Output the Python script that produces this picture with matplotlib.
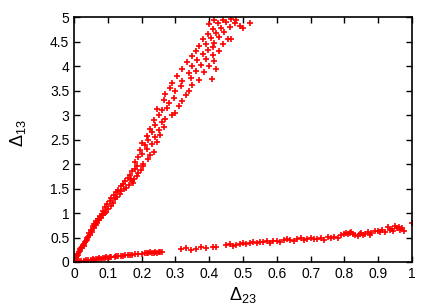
import matplotlib
matplotlib.use("Agg")
import matplotlib.pyplot as plt

plt.rcParams['font.family'] = ['Liberation Sans', 'DejaVu Sans']
plt.rcParams['mathtext.fontset'] = 'custom'
plt.rcParams['mathtext.rm'] = 'Liberation Sans'
plt.rcParams['mathtext.it'] = 'Liberation Sans'

# steep branch (delta_23, delta_13)
steep_x = [0.002, 0.004, 0.006, 0.008, 0.01, 0.013, 0.016, 0.018, 0.021, 0.024, 0.026, 0.029, 0.032, 0.034,
           0.037, 0.039, 0.012, 0.028,
           0.04, 0.048, 0.045, 0.054, 0.05, 0.058, 0.055, 0.064, 0.06, 0.068, 0.065, 0.074, 0.07, 0.08, 0.076,
           0.086, 0.082, 0.09, 0.095,
           0.085, 0.1, 0.092, 0.108, 0.098, 0.115, 0.105, 0.12, 0.11, 0.128, 0.118, 0.135, 0.125, 0.14, 0.13,
           0.148, 0.138, 0.155,
           0.145, 0.162, 0.15, 0.17, 0.158, 0.178, 0.165, 0.185, 0.172, 0.19, 0.18, 0.198, 0.186, 0.205, 0.175,
           0.168,
           0.18, 0.205, 0.22, 0.19, 0.2, 0.225, 0.215, 0.195, 0.235, 0.21, 0.23, 0.2, 0.245, 0.22, 0.24, 0.215,
           0.255, 0.23, 0.25, 0.225, 0.265, 0.24, 0.26,
           0.235, 0.27, 0.25, 0.29, 0.26, 0.3, 0.275, 0.245, 0.31, 0.28, 0.265, 0.32, 0.295, 0.27, 0.33, 0.3,
           0.285, 0.34, 0.315, 0.29, 0.35,
           0.32, 0.345, 0.37, 0.305, 0.34, 0.36, 0.385, 0.32, 0.35, 0.375, 0.4, 0.335, 0.365, 0.39, 0.35, 0.38,
           0.41, 0.36, 0.395, 0.42, 0.407, 0.41,
           0.37, 0.39, 0.415, 0.44, 0.38, 0.405, 0.43, 0.455, 0.465, 0.395, 0.42, 0.445, 0.41, 0.435, 0.46, 0.4,
           0.425, 0.45, 0.475, 0.49, 0.5, 0.52, 0.44, 0.465, 0.415, 0.48, 0.43, 0.415]
steep_y = [0.02, 0.06, 0.1, 0.12, 0.16, 0.2, 0.22, 0.26, 0.28, 0.3, 0.34, 0.36, 0.4, 0.42,
           0.45, 0.48, 0.15, 0.32,
           0.52, 0.55, 0.6, 0.62, 0.66, 0.7, 0.73, 0.75, 0.78, 0.8, 0.84, 0.85, 0.88, 0.9, 0.93,
           0.95, 0.98, 1.0, 1.02,
           1.05, 1.08, 1.12, 1.15, 1.18, 1.2, 1.25, 1.28, 1.3, 1.32, 1.36, 1.38, 1.42, 1.45, 1.48,
           1.5, 1.55, 1.52,
           1.6, 1.58, 1.66, 1.65, 1.72, 1.7, 1.78, 1.75, 1.85, 1.82, 1.9, 1.88, 1.96, 1.95, 1.62,
           1.7,
           2.05, 2.0, 2.1, 2.15, 2.2, 2.18, 2.3, 2.28, 2.25, 2.38, 2.4, 2.42, 2.45, 2.5, 2.55, 2.58,
           2.6, 2.65, 2.7, 2.72, 2.75, 2.8, 2.85,
           2.9, 2.92, 3.0, 3.0, 3.1, 3.05, 3.15, 3.12, 3.18, 3.25, 3.3, 3.28, 3.35, 3.42, 3.4, 3.5,
           3.55, 3.5, 3.6, 3.65, 3.62,
           3.7, 3.75, 3.72, 3.8, 3.85, 3.9, 3.88, 3.95, 4.0, 4.02, 4.0, 4.08, 4.12, 4.15, 4.2, 4.25,
           4.22, 4.3, 4.32, 3.94, 3.73, 4.38,
           4.4, 4.45, 4.48, 4.45, 4.55, 4.58, 4.6, 4.55, 4.55, 4.65, 4.68, 4.7, 4.75, 4.78, 4.8, 4.85,
           4.88, 4.9, 4.88, 4.82, 4.78, 4.88, 4.95, 4.97, 4.95, 4.95, 4.3, 4.1]

# shallow branch
flat_x = [0.005, 0.01, 0.015, 0.02, 0.03, 0.035, 0.04, 0.05, 0.055, 0.06, 0.065, 0.07, 0.075, 0.08, 0.085,
          0.09, 0.095, 0.1, 0.105, 0.11, 0.12, 0.125, 0.13, 0.14, 0.145, 0.15, 0.16, 0.165, 0.17, 0.18, 0.19,
          0.2, 0.21, 0.215, 0.22, 0.225, 0.23, 0.235, 0.24, 0.245, 0.25, 0.255, 0.26,
          0.315, 0.33, 0.345, 0.36, 0.375, 0.39, 0.41, 0.42, 0.45, 0.46, 0.47, 0.48, 0.49, 0.5, 0.51, 0.52,
          0.53, 0.54, 0.55,
          0.56, 0.57, 0.58, 0.59, 0.6, 0.61, 0.62, 0.63, 0.64, 0.65, 0.66, 0.67, 0.68, 0.69, 0.7, 0.71, 0.72,
          0.73, 0.74, 0.75, 0.76, 0.77, 0.78, 0.79, 0.8, 0.805, 0.81, 0.815, 0.82, 0.825, 0.83, 0.84, 0.845,
          0.85, 0.855, 0.86, 0.87, 0.875, 0.88, 0.89, 0.9, 0.905, 0.91, 0.92, 0.93, 0.935, 0.94, 0.945, 0.95,
          0.955, 0.96, 0.965, 0.97, 0.975, 1.0]
flat_y = [0.0, 0.01, 0.02, 0.02, 0.03, 0.04, 0.04, 0.05, 0.06, 0.05, 0.07, 0.07, 0.08, 0.07, 0.09,
          0.08, 0.1, 0.09, 0.1, 0.11, 0.11, 0.12, 0.12, 0.13, 0.12, 0.14, 0.14, 0.15, 0.15, 0.16, 0.17,
          0.16, 0.18, 0.19, 0.18, 0.2, 0.19, 0.18, 0.2, 0.19, 0.21, 0.2, 0.2,
          0.27, 0.28, 0.25, 0.27, 0.3, 0.29, 0.3, 0.31, 0.34, 0.36, 0.33, 0.35, 0.37, 0.39, 0.36, 0.38,
          0.4, 0.39, 0.41,
          0.4, 0.42, 0.39, 0.42, 0.43, 0.41, 0.44, 0.47, 0.45, 0.43, 0.46, 0.48, 0.44, 0.47, 0.49, 0.47, 0.46,
          0.5, 0.44, 0.51, 0.49, 0.52, 0.5, 0.55, 0.58, 0.6, 0.57, 0.59, 0.61, 0.58, 0.56, 0.54, 0.57,
          0.6, 0.55, 0.58, 0.61, 0.56, 0.6, 0.63, 0.64, 0.61, 0.66, 0.62, 0.72, 0.65, 0.68, 0.63, 0.74,
          0.69, 0.72, 0.66, 0.7, 0.64, 0.8]

xticks = [0, 0.1, 0.2, 0.3, 0.4, 0.5, 0.6, 0.7, 0.8, 0.9, 1]
xticklabels = ['0', '0.1', '0.2', '0.3', '0.4', '0.5', '0.6', '0.7', '0.8', '0.9', '1']
yticks = [0, 0.5, 1, 1.5, 2, 2.5, 3, 3.5, 4, 4.5, 5]
yticklabels = ['0', '0.5', '1', '1.5', '2', '2.5', '3', '3.5', '4', '4.5', '5']


def main():
    fig = plt.figure(figsize=(4.36, 3.05), dpi=100)
    ax = fig.add_axes([0.170, 0.141, 0.775, 0.803])
    ax.plot(steep_x, steep_y, '+', color='red', markersize=5, markeredgewidth=1.2)
    ax.plot(flat_x, flat_y, '+', color='red', markersize=5, markeredgewidth=1.2)
    ax.set_xlim(0, 1)
    ax.set_ylim(0, 5)
    ax.set_xticks(xticks)
    ax.set_xticklabels(xticklabels)
    ax.set_yticks(yticks)
    ax.set_yticklabels(yticklabels)
    ax.tick_params(direction='in', length=4, width=1, top=True, right=True, labelsize=10)
    for s in ax.spines.values():
        s.set_linewidth(1.2)
    ax.set_xlabel(r'$\Delta_{23}$', fontsize=13)
    ax.set_ylabel(r'$\Delta_{13}$', fontsize=13)
    ax.xaxis.set_label_coords(0.5, -0.092)
    ax.yaxis.set_label_coords(-0.136, 0.527)
    fig.savefig('out.png', dpi=100)


if __name__ == '__main__':
    main()
